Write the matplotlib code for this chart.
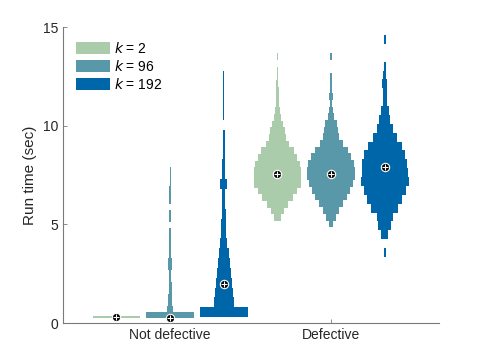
import matplotlib
matplotlib.use("Agg")
import matplotlib.pyplot as plt
from matplotlib.patches import Patch
import numpy as np

plt.rcParams['font.family'] = ['Liberation Sans', 'DejaVu Sans']

groups = ["Not defective", "Defective"]
k_values = [2, 96, 192]
colors = ["#AACCAA", "#5898A8", "#0066AA"]

# histogram bins per violin: first edge, bin height (sec), relative widths
bin_start = [[0.25, 0.24, 0.30], [5.17, 4.86, 3.35]]
bin_size = [[0.10, 0.306, 0.50], [0.34, 0.34, 0.45]]

nd_k2 = [1.0]
nd_k96 = [1.0, 0.12, 0.09, 0.07, 0.06, 0.06, 0.05, 0.04, 0.09, 0.09,
          0.035, 0.035, 0.03, 0.03, 0.03, 0.0, 0.03, 0.03, 0.0, 0.03,
          0.03, 0.03, 0.025, 0.025, 0.025]
nd_k192 = [1.0, 0.43, 0.38, 0.34, 0.30, 0.26, 0.20, 0.14, 0.11, 0.10,
           0.08, 0.07, 0.06, 0.15, 0.06, 0.06, 0.05, 0.035, 0.035, 0.0,
           0.03, 0.03, 0.03, 0.03, 0.03]
d_k2 = [0.15, 0.27, 0.45, 0.65, 0.82, 0.98, 1.0, 1.0, 0.95, 0.82,
        0.68, 0.50, 0.36, 0.30, 0.22, 0.15, 0.10, 0.07, 0.06, 0.05,
        0.04, 0.035, 0.03, 0.0, 0.03]
d_k96 = [0.10, 0.22, 0.35, 0.50, 0.66, 0.80, 0.93, 1.0, 1.0, 0.97,
         0.83, 0.69, 0.48, 0.33, 0.28, 0.24, 0.13, 0.09, 0.05, 0.07,
         0.035, 0.03, 0.03, 0.0, 0.0, 0.035]
d_k192 = [0.035, 0.0, 0.14, 0.27, 0.34, 0.57, 0.74, 0.88, 1.0, 0.97,
          0.95, 0.85, 0.71, 0.51, 0.34, 0.24, 0.17, 0.09, 0.08, 0.10,
          0.07, 0.04, 0.0, 0.0, 0.05]
rel_widths = [[nd_k2, nd_k96, nd_k192], [d_k2, d_k96, d_k192]]

means = [[0.30, 0.27, 1.97], [7.58, 7.58, 7.90]]

group_x = [1, 2]
offsets = [-1/3, 0, 1/3]
half_w = 0.148

fig = plt.figure(figsize=(4.85, 3.63), dpi=100)
ax = fig.add_axes([0.13, 0.11, 0.775, 0.815])

for g, gx in enumerate(group_x):
    for j in range(3):
        x = gx + offsets[j]
        rel = np.array(rel_widths[g][j])
        edges = bin_start[g][j] + bin_size[g][j] * np.arange(len(rel))
        ax.barh(edges, 2 * half_w * rel, left=x - half_w * rel,
                height=bin_size[g][j], align='edge', color=colors[j],
                edgecolor='none', linewidth=0)
        ax.plot(x, means[g][j], 'o', ms=6, mfc='k', mec='w', mew=0.8, zorder=5)
        ax.plot(x, means[g][j], '+', ms=4.5, mec='w', mew=0.8, zorder=6)

ax.set_xlim(0.335, 2.67)
ax.set_ylim(0, 15)
ax.set_yticks([0, 5, 10, 15])
ax.set_xticks(group_x)
ax.set_xticklabels(groups)
ax.set_ylabel("Run time (sec)", fontsize=11)

axis_col = '#262626'
for side in ['top', 'right']:
    ax.spines[side].set_visible(False)
for side in ['left', 'bottom']:
    ax.spines[side].set_color('#7a7a7a')
    ax.spines[side].set_linewidth(0.8)
ax.tick_params(direction='in', length=3, width=0.6, color='#7a7a7a',
               labelcolor=axis_col, labelsize=10)
ax.yaxis.label.set_color(axis_col)

handles = [Patch(facecolor=c, edgecolor='none') for c in colors]
labels = [f"$k$ = {k}" for k in k_values]
ax.legend(handles, labels, loc='upper left', frameon=False, fontsize=10,
          handlelength=2.45, handleheight=0.95, labelspacing=0.22,
          handletextpad=0.3, borderaxespad=0.0, borderpad=0.0,
          bbox_to_anchor=(0.035, 0.955))

fig.savefig("out.png", dpi=100)
